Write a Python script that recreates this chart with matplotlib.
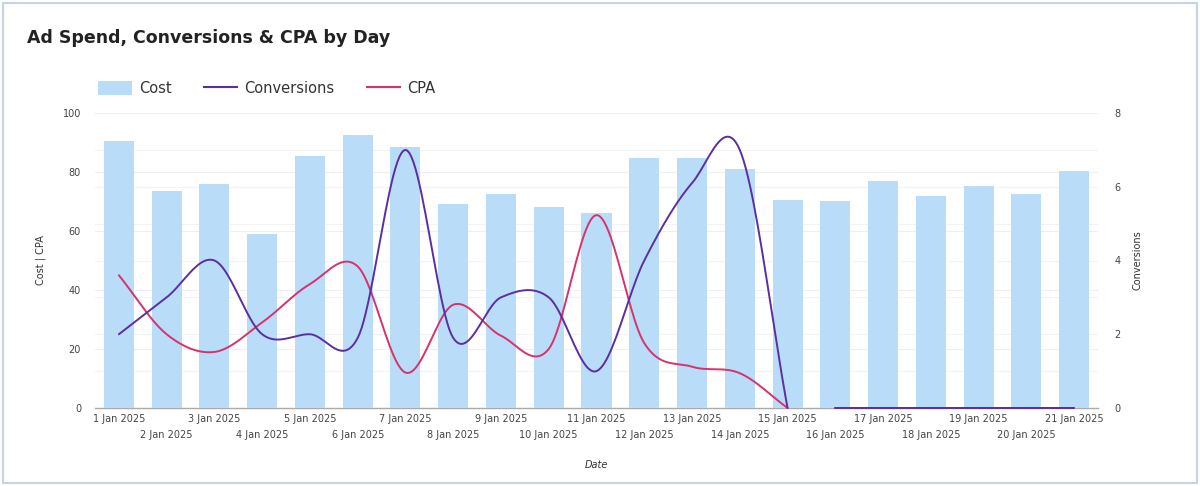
import numpy as np
import matplotlib.pyplot as plt
from matplotlib.patches import Patch, Rectangle
from matplotlib.lines import Line2D

#%% data
days = list(range(1, 22))
date_labels = ['{} Jan 2025'.format(d) for d in days]
cost = [90.5, 73.6, 75.9, 59.0, 85.4, 92.5, 88.5, 69.2, 72.5, 68.1, 66.1,
        84.7, 84.7, 81.0, 70.5, 70.2, 77.0, 71.9, 75.3, 72.5, 80.3]
conversions = [2, 3, 4, 2, 2, 1.9, 7, 1.9, 3, 3, 1,
               4, 6.1, 7.0, 0, 0, 0, 0, 0, 0, 0]
cpa = [45, 25, 19, 29, 42, 48, 12, 35, 24.5, 20, 65.4,
       22, 14, 11.8, 0, 0, 0, 0, 0, 0, 0]
line_break = 15  # lines are drawn as two pieces: days 1-15 and 16-21

#%% colours
c_bar = '#b9dcf8'
c_conv = '#5b2fa0'
c_cpa = '#d6336c'
c_text = '#333333'


def smooth(x, y, n=24):
    # cubic hermite through the points (catmull-rom style tangents)
    x = np.asarray(x, float)
    y = np.asarray(y, float)
    if len(x) < 2:
        return x, y
    m = np.gradient(y, x)
    xs, ys = [], []
    t = np.linspace(0, 1, n, endpoint=False)
    h00 = 2 * t**3 - 3 * t**2 + 1
    h10 = t**3 - 2 * t**2 + t
    h01 = -2 * t**3 + 3 * t**2
    h11 = t**3 - t**2
    for i in range(len(x) - 1):
        h = x[i + 1] - x[i]
        xs.append(x[i] + t * h)
        ys.append(h00 * y[i] + h10 * h * m[i] + h01 * y[i + 1] + h11 * h * m[i + 1])
    xs.append([x[-1]])
    ys.append([y[-1]])
    return np.concatenate(xs), np.concatenate(ys)


def plot_smooth(axis, x, y, color):
    for a, b in [(0, line_break), (line_break, len(x))]:
        sx, sy = smooth(x[a:b], y[a:b])
        axis.plot(sx, sy, color=color, lw=1.4, solid_capstyle='round',
                  zorder=3, clip_on=False)


#%% figure
fig = plt.figure(figsize=(12, 4.86), dpi=100)
fig.patches.append(Rectangle((3 / 1200, 3 / 486), 1194 / 1200, 480 / 486,
                             transform=fig.transFigure, fill=False,
                             edgecolor='#c9d2e3', lw=1.5))

ax = fig.add_axes([95 / 1200, 1 - 408 / 486, (1098 - 95) / 1200, (408 - 113) / 486])
ax2 = ax.twinx()

# faint gridlines behind the bars (left ticks and right ticks)
for k in range(1, 6):
    ax.axhline(k * 20, color='#efefef', lw=0.8, zorder=0)
for k in range(1, 8):
    ax.axhline(k * 100 / 8, color='#f3f3f3', lw=0.8, zorder=0)

ax.bar(days, cost, width=0.63, color=c_bar, zorder=2)
plot_smooth(ax, days, cpa, c_cpa)
plot_smooth(ax2, days, conversions, c_conv)

ax.set_xlim(0.5, 21.5)
ax.set_ylim(0, 100)
ax2.set_ylim(0, 8)
ax.set_yticks(range(0, 101, 20))
ax2.set_yticks(range(0, 9, 2))
ax2.set_zorder(ax.get_zorder() + 1)
ax2.patch.set_visible(False)

for a in (ax, ax2):
    for s in a.spines.values():
        s.set_visible(False)
    a.tick_params(length=0, which='both', labelsize=7, colors='#444444')
ax.spines['bottom'].set_visible(True)
ax.spines['bottom'].set_color('#aaaaaa')
ax.spines['bottom'].set_linewidth(1.0)
ax.spines['bottom'].set_zorder(1)

# odd days on the first row, even days on a second row
ax.set_xticks(days[0::2])
ax.set_xticklabels(date_labels[0::2])
ax.set_xticks(days[1::2], minor=True)
ax.set_xticklabels(date_labels[1::2], minor=True)
ax.tick_params(axis='x', which='major', pad=4)
ax.tick_params(axis='x', which='minor', pad=16)
ax.tick_params(axis='y', pad=10)
ax2.tick_params(axis='y', pad=12)

ax.set_ylabel('Cost | CPA', fontsize=7, color=c_text, labelpad=12)
ax2.set_ylabel('Conversions', fontsize=7, color=c_text, rotation=90, labelpad=8)
ax.set_xlabel('Date', fontsize=7, color=c_text, style='italic', labelpad=14)

fig.text(27 / 1200, 1 - 38 / 486, 'Ad Spend, Conversions & CPA by Day',
         fontsize=12.5, fontweight='bold', color='#222222', va='center')

handles = [Patch(facecolor=c_bar, edgecolor='none', label='Cost'),
           Line2D([], [], color=c_conv, lw=1.5, label='Conversions'),
           Line2D([], [], color=c_cpa, lw=1.5, label='CPA')]
fig.legend(handles=handles, loc='center left', ncol=3, frameon=False,
           bbox_to_anchor=(85 / 1200, 1 - 88 / 486), fontsize=10.5,
           handlelength=2.3, handleheight=1.1, columnspacing=2.2,
           handletextpad=0.5, labelcolor=c_text)

fig.savefig('out.png', dpi=100)
